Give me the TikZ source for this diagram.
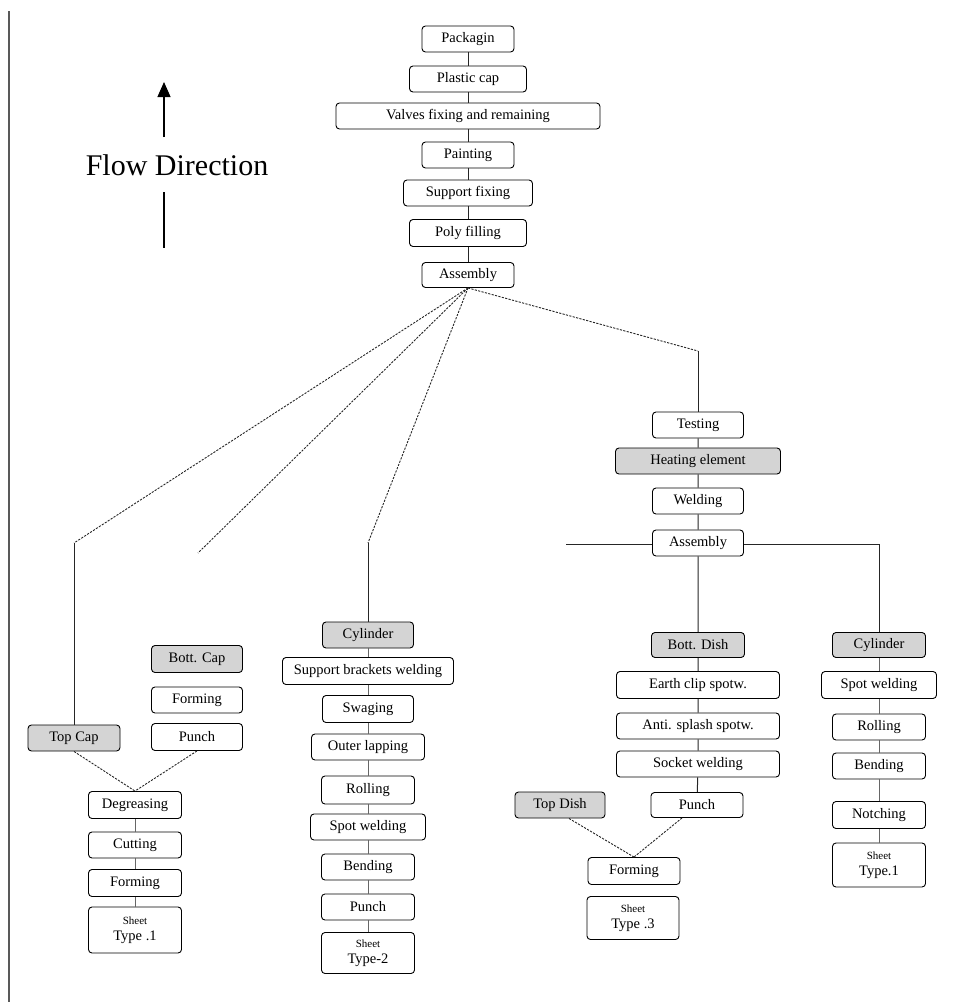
\documentclass[tikz,border=0pt]{standalone}
\usepackage{fontspec}
\setmainfont{Liberation Serif}
\usetikzlibrary{arrows.meta,calc}
\newcommand\shtxt{\fontsize{11}{14}\selectfont}
\tikzset{
  box/.style={draw=black, rounded corners=3.5pt, line width=0.9pt, inner sep=0pt,
    font=\fontsize{14.5}{16}\selectfont, align=center, fill=white},
  gbox/.style={box, fill=black!17},
  conn/.style={line width=1pt, draw=black!85},
  lconn/.style={line width=0.9pt, draw=black!60},
  dsh/.style={line width=0.9pt, draw=black!85, dash pattern=on 2.2pt off 1.3pt},
}
\begin{document}
\begin{tikzpicture}[x=1pt,y=-1pt]
\useasboundingbox (0,0) rectangle (964,1002);
% left border
\draw[black!65, line width=2pt] (9,11) -- (9,1002);
% flow direction
\coordinate (fa) at (164,137);
\coordinate (fb) at (164,82);
\coordinate (fc) at (164,192);
\coordinate (fd) at (164,248);
\draw[line width=1.2pt, -{Triangle[length=15pt,width=13pt]}] (fa) -- (fb);
\draw[line width=1.2pt] (fc) -- (fd);
\node[anchor=base, font=\fontsize{30}{34}\selectfont, inner sep=0pt] (flow) at (177,175) {Flow Direction};

% top stack
\node[box, minimum width=92, minimum height=26] (pk) at (468,39) {Packagin};
\node[box, minimum width=117, minimum height=26] (pc) at (468,79) {Plastic cap};
\node[box, minimum width=264, minimum height=26] (vf) at (468,116) {Valves fixing and remaining};
\node[box, minimum width=92, minimum height=26] (pa) at (468,155) {Painting};
\node[box, minimum width=129, minimum height=26] (sf) at (468,193) {Support fixing};
\node[box, minimum width=117, minimum height=27] (pf) at (468,233) {Poly filling};
\node[box, minimum width=92, minimum height=25] (as) at (468,275) {Assembly};
\draw[conn] (pk) -- (pc) -- (vf) -- (pa) -- (sf) -- (pf) -- (as);

% right branch
\node[box, minimum width=91, minimum height=26] (te) at (698,425) {Testing};
\node[gbox, minimum width=165, minimum height=26] (he) at (698,461) {Heating element};
\node[box, minimum width=91, minimum height=26] (we) at (698,501) {Welding};
\node[box, minimum width=91, minimum height=26] (as2) at (698,543) {Assembly};
\node[gbox, minimum width=93, minimum height=25] (bd) at (698,645) {Bott. Dish};
\node[box, minimum width=163, minimum height=27] (ec) at (698,685) {Earth clip spotw.};
\node[box, minimum width=163, minimum height=26] (an) at (698,726) {Anti. splash spotw.};
\node[box, minimum width=163, minimum height=26] (sw) at (698,764) {Socket welding};
\node[box, minimum width=92, minimum height=25] (pu2) at (697,805) {Punch};
\node[gbox, minimum width=90, minimum height=26] (td) at (560,805) {Top Dish};
\node[box, minimum width=92, minimum height=27] (fo3) at (634,871) {Forming};
\node[box, minimum width=92, minimum height=43] (st3) at (633,918) {{\shtxt Sheet}\\Type .3};
\draw[conn] (te) -- (he) -- (we) -- (as2) -- (bd) -- (ec) -- (an) -- (sw) -- (pu2);
\coordinate (c5) at (566,544);
\coordinate (c6) at (879,544);
\draw[conn] (as2.west |- c5) -- (c5);
\draw[dsh] ($(td.south)+(9,0)$) -- (fo3.north);
\draw[dsh] ($(pu2.south)+(-15,0)$) -- (fo3.north);

% right column
\node[gbox, minimum width=93, minimum height=25] (cy2) at (879,645) {Cylinder};
\node[box, minimum width=115, minimum height=27] (sp2) at (879,685) {Spot welding};
\node[box, minimum width=93, minimum height=26] (ro2) at (879,727) {Rolling};
\node[box, minimum width=93, minimum height=26] (be2) at (879,766) {Bending};
\node[box, minimum width=93, minimum height=27] (no2) at (879,815) {Notching};
\node[box, minimum width=93, minimum height=44] (st4) at (879,865) {{\shtxt Sheet}\\Type.1};
\draw[conn] (as2.east |- c6) -- (c6) -- (cy2.north);
\draw[lconn] (cy2) -- (sp2) -- (ro2) -- (be2) -- (no2) -- (st4);

% middle column
\node[gbox, minimum width=91, minimum height=26] (cy1) at (368,635) {Cylinder};
\node[box, minimum width=171, minimum height=27] (sb) at (368,671) {Support brackets welding};
\node[box, minimum width=91, minimum height=27] (swg) at (368,709) {Swaging};
\node[box, minimum width=113, minimum height=26] (ol) at (368,747) {Outer lapping};
\node[box, minimum width=93, minimum height=28] (ro1) at (368,790) {Rolling};
\node[box, minimum width=115, minimum height=26] (sp1) at (368,827) {Spot welding};
\node[box, minimum width=93, minimum height=26] (be1) at (368,867) {Bending};
\node[box, minimum width=93, minimum height=26] (pu1) at (368,907) {Punch};
\node[box, minimum width=93, minimum height=41] (st2) at (368,953) {{\shtxt Sheet}\\Type-2};
\draw[lconn] (cy1) -- (sb) -- (swg) -- (ol) -- (ro1) -- (sp1) -- (be1) -- (pu1) -- (st2);

% left column
\node[gbox, minimum width=91, minimum height=27] (bc) at (197,659) {Bott. Cap};
\node[box, minimum width=91, minimum height=26] (fo1) at (197,700) {Forming};
\node[box, minimum width=91, minimum height=27] (pu0) at (197,737) {Punch};
\node[gbox, minimum width=92, minimum height=26] (tc) at (74,738) {Top Cap};
\node[box, minimum width=93, minimum height=27] (dg) at (135,805) {Degreasing};
\node[box, minimum width=93, minimum height=26] (cu) at (135,845) {Cutting};
\node[box, minimum width=93, minimum height=27] (fo2) at (135,883) {Forming};
\node[box, minimum width=93, minimum height=46] (st1) at (135,930) {{\shtxt Sheet}\\Type .1};
\draw[dsh] (tc.south) -- (dg.north);
\draw[dsh] (pu0.south) -- (dg.north);
\draw[lconn] (dg) -- (cu) -- (fo2) -- (st1);

% branches from assembly
\coordinate (c1) at (74,543);
\coordinate (c2) at (198,553);
\coordinate (c3) at (368,543);
\coordinate (c4) at (698,351);
\draw[dsh] (as.south) -- (c1);
\draw[conn] (c1) -- (tc.north);
\draw[dsh] (as.south) -- (c2);
\draw[dsh] (as.south) -- (c3);
\draw[conn] (c3) -- (cy1.north);
\draw[dsh] (as.south) -- (c4);
\draw[conn] (c4) -- (te.north);
\end{tikzpicture}
\end{document}
